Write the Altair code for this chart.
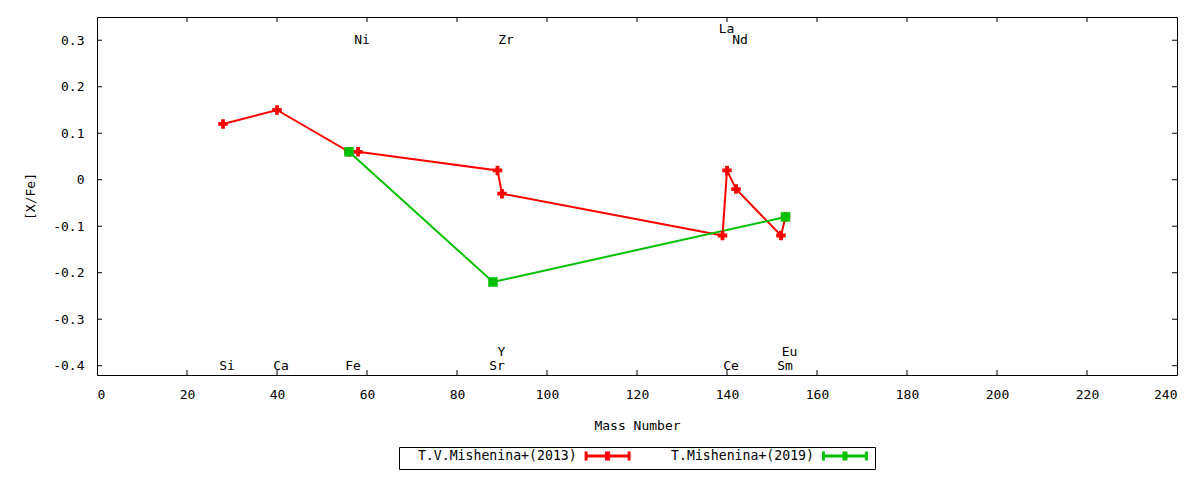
import altair as alt
import pandas as pd

# ---- data ----
series_names = ["T.V.Mishenina+(2013)", "T.Mishenina+(2019)"]
series_colors = ["#ff0000", "#00c000"]
series_shapes = ["cross", "square"]

mass_2013 = [28, 40, 56, 58, 89, 90, 139, 140, 142, 152, 153]
xfe_2013 = [0.12, 0.15, 0.06, 0.06, 0.02, -0.03, -0.12, 0.02, -0.02, -0.12, -0.08]

mass_2019 = [56, 88, 153]
xfe_2019 = [0.06, -0.22, -0.08]

label_names = ["Si", "Ca", "Fe", "Sr", "Y", "Ce", "Sm", "Eu", "Ni", "Zr", "La", "Nd"]
label_mass = [28, 40, 56, 88, 89, 140, 152, 153, 58, 90, 139, 142]
label_y = [-0.40, -0.40, -0.40, -0.40, -0.37, -0.40, -0.40, -0.37, 0.30, 0.30, 0.325, 0.30]

x_ticks = [0, 20, 40, 60, 80, 100, 120, 140, 160, 180, 200, 220, 240]
y_ticks = [-0.4, -0.3, -0.2, -0.1, 0.0, 0.1, 0.2, 0.3]

FONT = "DejaVu Sans Mono"
FS = 13
W, H = 1080, 358

rows = []
for m, v in zip(mass_2013, xfe_2013):
    rows.append({"mass": m, "xfe": v, "series": series_names[0],
                 "col": series_colors[0], "shp": series_shapes[0]})
for m, v in zip(mass_2019, xfe_2019):
    rows.append({"mass": m, "xfe": v, "series": series_names[1],
                 "col": series_colors[1], "shp": series_shapes[1]})
df = pd.DataFrame(rows)

labels_df = pd.DataFrame({"mass": label_mass, "y": label_y, "name": label_names})
xt_df = pd.DataFrame({"t": x_ticks[1:-1]})
yt_df = pd.DataFrame({"t": y_ticks})

xscale = alt.Scale(domain=[0, 240], nice=False, zero=False)
yscale = alt.Scale(domain=[-0.42, 0.35], nice=False, zero=False)

xaxis = alt.Axis(values=x_ticks, title="Mass Number", ticks=False, domain=False,
                 grid=False, labelPadding=13, titlePadding=18, format="d")
yaxis = alt.Axis(values=y_ticks, title="[X/Fe]", ticks=False, domain=False, grid=False,
                 labelPadding=13, titlePadding=15,
                 labelExpr="replace(format(datum.value, '.1~f'), '\u2212', '-')")

# gnuplot-style key sample drawn to the right of a right-aligned label
legend_path = ("M-3.3,0"
               "M35.7,0H44.3M35.7,-0.9V0.9M44.3,-0.9V0.9"
               "M39.8,-0.9V0.9M40.2,-0.9V0.9")

lines = alt.Chart(df).mark_line(strokeWidth=2).encode(
    x=alt.X("mass:Q", scale=xscale, axis=xaxis),
    y=alt.Y("xfe:Q", scale=yscale, axis=yaxis),
    color=alt.Color("series:N",
                    scale=alt.Scale(domain=series_names, range=series_colors),
                    sort=series_names,
                    legend=alt.Legend(orient="none", legendX=302, legendY=430,
                                      direction="horizontal", title=None,
                                      symbolType=legend_path, symbolSize=100,
                                      symbolStrokeWidth=3, strokeColor="black",
                                      fillColor="white", padding=2,
                                      columnPadding=-13.7, labelFont=FONT,
                                      labelFontSize=13.2, labelColor="black",
                                      labelAlign="right", labelOffset=162.5,
                                      labelLimit=400)),
    order="mass:Q",
)

points = alt.Chart(df).mark_point(filled=True, opacity=1).encode(
    x=alt.X("mass:Q", scale=xscale),
    y=alt.Y("xfe:Q", scale=yscale),
    color=alt.Color("col:N", scale=None),
    shape=alt.Shape("shp:N", scale=None),
    size=alt.value(90),
)

texts = alt.Chart(labels_df).mark_text(font=FONT, fontSize=FS, dx=4,
                                       color="black", baseline="middle").encode(
    x=alt.X("mass:Q", scale=xscale),
    y=alt.Y("y:Q", scale=yscale),
    text="name:N",
)

tick_bottom = alt.Chart(xt_df).mark_rule(color="black", strokeWidth=1).encode(
    x=alt.X("t:Q", scale=xscale), y=alt.value(H), y2=alt.value(H - 5))
tick_top = alt.Chart(xt_df).mark_rule(color="black", strokeWidth=1).encode(
    x=alt.X("t:Q", scale=xscale), y=alt.value(0), y2=alt.value(5))
tick_left = alt.Chart(yt_df).mark_rule(color="black", strokeWidth=1).encode(
    y=alt.Y("t:Q", scale=yscale), x=alt.value(0), x2=alt.value(5))
tick_right = alt.Chart(yt_df).mark_rule(color="black", strokeWidth=1).encode(
    y=alt.Y("t:Q", scale=yscale), x=alt.value(W), x2=alt.value(W - 5))

chart = alt.layer(
    tick_bottom, tick_top, tick_left, tick_right, lines, points, texts
).properties(
    width=W, height=H,
    autosize=alt.AutoSizeParams(type="none"),
    padding={"left": 89, "top": 9, "right": 11, "bottom": 96},
    background="white",
).configure_view(
    stroke="black", strokeWidth=1
).configure_axis(
    labelFont=FONT, labelFontSize=FS, labelColor="black",
    titleFont=FONT, titleFontSize=FS, titleFontWeight="normal", titleColor="black",
)

chart.save("out.html", embed_options={"renderer": "svg", "actions": False})
